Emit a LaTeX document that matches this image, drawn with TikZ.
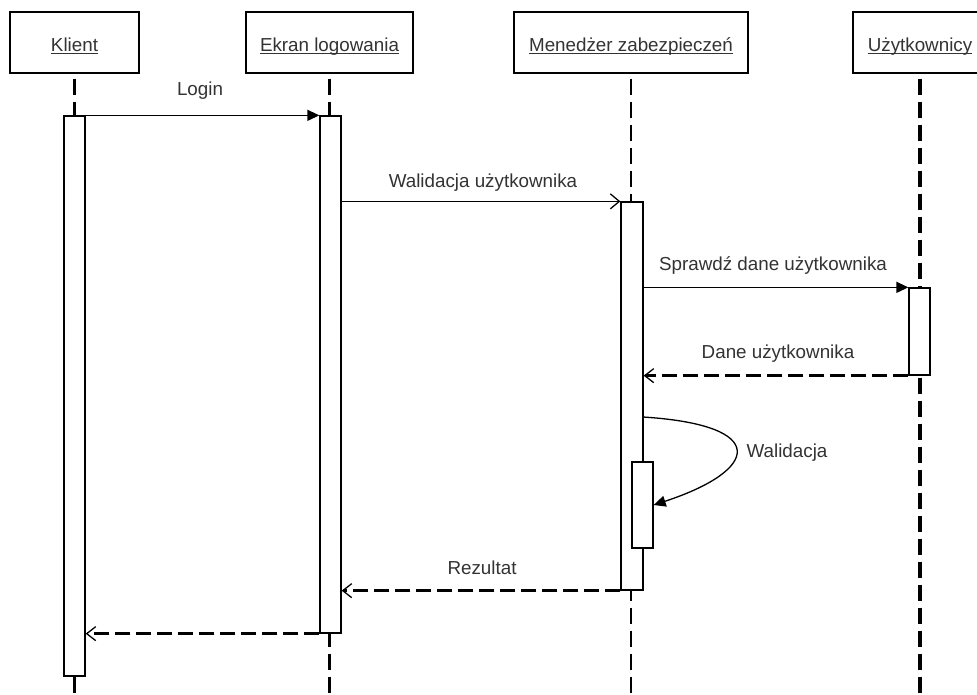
\documentclass[tikz,border=0pt]{standalone}
\usepackage{fontspec}
\setmainfont{Liberation Sans}
\usetikzlibrary{arrows.meta}
\newcommand\hdrul[1]{\setbox0\hbox{#1}\rlap{\rule[-2.2pt]{\wd0}{1pt}}\box0}
\begin{document}
\begin{tikzpicture}[x=1pt,y=-1pt,
  font=\fontsize{18.8}{22}\selectfont,
  head/.style={draw, line width=1.3pt, minimum height=61pt, inner sep=0pt, text=black!80, text height=18.5pt, text depth=0pt},
  bar/.style={draw, fill=white, line width=1.3pt, minimum width=21pt, inner sep=0pt},
  life/.style={line width=2.7pt, dash pattern=on 16pt off 7pt},
  call/.style={line width=1.3pt, -{Triangle[length=12pt,width=11pt]}},
  call2/.style={line width=1.3pt, -{Straight Barb[length=9pt,width=15pt]}},
  ret/.style={line width=3.2pt, dash pattern=on 15pt off 6pt, -{Straight Barb[length=9pt,width=14pt,line width=1.3pt]}},
  lbl/.style={text=black!80, inner sep=0pt, anchor=base}
]
\clip (0,0) rectangle (977,694);
\fill[white] (0,0) rectangle (977,694);
% headers
\node[head, minimum width=129pt] (k) at (74.5,42.5) {\hdrul{Klient}};
\node[head, minimum width=167pt] (e) at (329.5,42.5) {\hdrul{Ekran logowania}};
\node[head, minimum width=234pt] (m) at (631,42.5) {\hdrul{Menedżer zabezpieczeń}};
\node[head, minimum width=134pt] (u) at (920,42.5) {\hdrul{Użytkownicy}};
% lifelines
\draw[life] ([yshift=-5pt]k.south) -- (k.south |- 0,710);
\draw[life] ([yshift=-5pt]e.south) -- (e.south |- 0,710);
\draw[life] ([yshift=-5pt]m.south) -- (m.south |- 0,710);
\draw[life, line width=4pt] ([yshift=-5pt]u.south) -- (u.south |- 0,710);
% activation bars
\node[bar, minimum height=560pt] (kb) at (74.5,396) {};
\node[bar, minimum height=517pt] (eb) at (330.5,374.5) {};
\node[bar, minimum width=22pt, minimum height=388pt] (mb) at (632,396) {};
\node[bar, minimum height=87pt] (ub) at (919.5,331.5) {};
\node[bar, minimum height=86pt] (mb2) at (642.5,505) {};
\coordinate (selfstart) at (643,417);
% messages
\draw[call] (kb.north east) -- (eb.north west);
\draw[call2] (eb.east |- mb.north) -- (mb.north west);
\draw[call] (mb.east |- ub.north) -- (ub.north west);
\draw[ret] (ub.south west) -- (mb.east |- ub.south);
\draw[call] (selfstart) .. controls (770,425) and (760,470) .. (mb2.east);
\draw[ret] (mb.south west) -- (eb.east |- mb.south);
\draw[ret] (eb.south west) -- (kb.east |- eb.south);
% labels
\node[lbl] (l1) at (200,95) {Login};
\node[lbl] (l2) at (483,187) {Walidacja użytkownika};
\node[lbl] (l3) at (773,270) {Sprawdź dane użytkownika};
\node[lbl] (l4) at (778,358) {Dane użytkownika};
\node[lbl] (l5) at (787,457) {Walidacja};
\node[lbl] (l6) at (482,574) {Rezultat};
\end{tikzpicture}
\end{document}
